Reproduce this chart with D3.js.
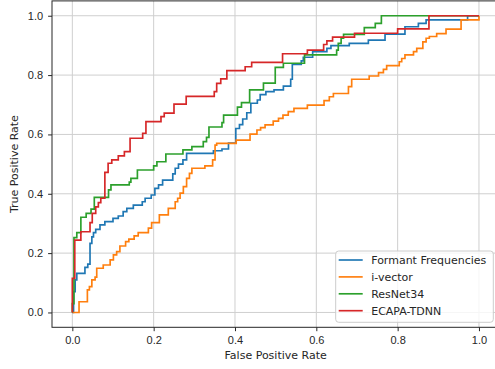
<!DOCTYPE html>
<html>
<head>
<meta charset="utf-8">
<script src="https://cdn.jsdelivr.net/npm/d3@7"></script>
<style>
  body { margin: 0; background: #fff; }
  svg { display: block; font-family: "DejaVu Sans", sans-serif; }
  .tick text { font-size: 11px; fill: #262626; }
  .tick line { stroke: #262626; }
  .domain { display: none; }
</style>
</head>
<body>
<svg id="chart" width="495" height="369"></svg>
<script>
// ROC curves (corner points, step after)
const seriesNames = ['Formant Frequencies', 'i-vector', 'ResNet34', 'ECAPA-TDNN'];
const seriesColors = ['#1f77b4', '#ff7f0e', '#2ca02c', '#d62728'];

const formantFpr = [0, 0.003, 0.007, 0.011, 0.031, 0.038, 0.0435, 0.048, 0.052, 0.0575,
    0.068, 0.08, 0.1, 0.113, 0.125, 0.134, 0.15, 0.172, 0.179, 0.194,
    0.203, 0.212, 0.222, 0.247, 0.253, 0.261, 0.272, 0.281, 0.347, 0.368,
    0.384, 0.402, 0.411, 0.419, 0.429, 0.439, 0.455, 0.462, 0.476, 0.496,
    0.519, 0.537, 0.541, 0.563, 0.568, 0.591, 0.626, 0.636, 0.681, 0.728,
    0.769, 0.818, 0.851, 0.87, 0.972, 1.0];
const formantTpr = [0, 0.07, 0.11, 0.132, 0.152, 0.163, 0.233, 0.255, 0.269, 0.28,
    0.295, 0.306, 0.317, 0.325, 0.34, 0.351, 0.362, 0.373, 0.385, 0.396,
    0.418, 0.43, 0.446, 0.467, 0.486, 0.5, 0.514, 0.536, 0.545, 0.551,
    0.571, 0.62, 0.633, 0.652, 0.673, 0.705, 0.716, 0.734, 0.744, 0.75,
    0.763, 0.786, 0.836, 0.848, 0.86, 0.879, 0.89, 0.899, 0.907, 0.918,
    0.938, 0.963, 0.974, 0.986, 1.0, 1.0];

const ivecFpr = [0, 0.0165, 0.037, 0.042, 0.048, 0.056, 0.06, 0.076, 0.093, 0.101,
    0.109, 0.117, 0.131, 0.139, 0.152, 0.162, 0.187, 0.195, 0.214, 0.236,
    0.253, 0.259, 0.265, 0.273, 0.281, 0.288, 0.294, 0.326, 0.345, 0.351,
    0.355, 0.403, 0.437, 0.454, 0.463, 0.474, 0.494, 0.507, 0.518, 0.531,
    0.545, 0.578, 0.619, 0.632, 0.642, 0.679, 0.687, 0.73, 0.753, 0.765,
    0.773, 0.804, 0.81, 0.818, 0.839, 0.847, 0.862, 0.87, 0.878, 0.896,
    0.919, 0.956, 1.0];
const ivecTpr = [0, 0.036, 0.076, 0.087, 0.11, 0.119, 0.149, 0.16, 0.177, 0.194,
    0.205, 0.224, 0.239, 0.247, 0.258, 0.269, 0.284, 0.303, 0.329, 0.351,
    0.373, 0.385, 0.402, 0.424, 0.452, 0.469, 0.486, 0.494, 0.514, 0.564,
    0.57, 0.581, 0.601, 0.615, 0.623, 0.632, 0.645, 0.654, 0.665, 0.677,
    0.688, 0.699, 0.714, 0.727, 0.738, 0.761, 0.786, 0.797, 0.808, 0.819,
    0.832, 0.845, 0.856, 0.868, 0.879, 0.89, 0.912, 0.924, 0.93, 0.94,
    0.955, 0.986, 1.0];

const resnetFpr = [0, 0, 0.004, 0.011, 0.021, 0.034, 0.046, 0.054, 0.089, 0.095,
    0.14, 0.144, 0.16, 0.2, 0.208, 0.23, 0.272, 0.294, 0.322, 0.33,
    0.336, 0.368, 0.372, 0.406, 0.416, 0.436, 0.47, 0.499, 0.519, 0.571,
    0.65, 0.654, 0.661, 0.667, 0.718, 0.745, 0.76, 1.0];
const resnetTpr = [0, 0.03, 0.252, 0.269, 0.321, 0.334, 0.348, 0.388, 0.413, 0.43,
    0.439, 0.452, 0.48, 0.494, 0.508, 0.534, 0.548, 0.559, 0.576, 0.59,
    0.625, 0.64, 0.665, 0.692, 0.707, 0.75, 0.773, 0.826, 0.84, 0.868,
    0.884, 0.907, 0.924, 0.937, 0.96, 0.974, 1.0, 1.0];

const ecapaFpr = [0, 0, 0.006, 0.021, 0.0435, 0.049, 0.0575, 0.064, 0.07, 0.08,
    0.088, 0.097, 0.113, 0.128, 0.142, 0.173, 0.181, 0.218, 0.226, 0.25,
    0.28, 0.349, 0.355, 0.365, 0.38, 0.425, 0.441, 0.517, 0.578, 0.618,
    0.626, 0.64, 0.694, 0.8, 0.877, 1.0];
const ecapaTpr = [0, 0.115, 0.244, 0.272, 0.303, 0.334, 0.356, 0.37, 0.385, 0.472,
    0.503, 0.514, 0.528, 0.542, 0.587, 0.604, 0.643, 0.66, 0.672, 0.702,
    0.728, 0.744, 0.772, 0.787, 0.815, 0.828, 0.843, 0.872, 0.884, 0.903,
    0.915, 0.928, 0.941, 0.956, 1.0, 1.0];

const tickValues = [0, 0.2, 0.4, 0.6, 0.8, 1.0];

const curves = [
    [formantFpr, formantTpr],
    [ivecFpr, ivecTpr],
    [resnetFpr, resnetTpr],
    [ecapaFpr, ecapaTpr],
].map(([f, t], i) => ({
    name: seriesNames[i],
    color: seriesColors[i],
    pts: f.map((v, j) => [v, t[j]]),
}));

const L = 52, R = 499.3, T = 0.9, B = 327.3;
const svg = d3.select('#chart');
const x = d3.scaleLinear().domain([-0.05, 1.05]).range([L, R]);
const y = d3.scaleLinear().domain([-0.05, 1.05]).range([B, T]);

// grid
const grid = svg.append('g').attr('stroke', '#cfcfcf').attr('stroke-width', 1);
grid.selectAll('.gx').data(tickValues).enter().append('line')
    .attr('x1', d => x(d)).attr('x2', d => x(d)).attr('y1', T).attr('y2', B);
grid.selectAll('.gy').data(tickValues).enter().append('line')
    .attr('y1', d => y(d)).attr('y2', d => y(d)).attr('x1', L).attr('x2', R);

// curves
const line = d3.line().x(d => x(d[0])).y(d => y(d[1])).curve(d3.curveStepAfter);
svg.append('g').selectAll('path').data(curves).enter().append('path')
    .attr('d', d => line(d.pts))
    .attr('fill', 'none')
    .attr('stroke', d => d.color)
    .attr('stroke-width', 1.67)
    .attr('stroke-linejoin', 'miter');

// spines
svg.append('rect').attr('x', L).attr('y', T).attr('width', R - L).attr('height', B - T)
    .attr('fill', 'none').attr('stroke', '#262626').attr('stroke-width', 1);

// axes
svg.append('g').attr('transform', `translate(0,${B})`)
    .call(d3.axisBottom(x).tickValues(tickValues).tickFormat(d3.format('.1f')).tickSize(3.9).tickPadding(4.5));
svg.append('g').attr('transform', `translate(${L},0)`)
    .call(d3.axisLeft(y).tickValues(tickValues).tickFormat(d3.format('.1f')).tickSize(3.9).tickPadding(5));

svg.append('text').attr('x', x(0.5)).attr('y', 359).attr('text-anchor', 'middle')
    .attr('font-size', 11).attr('fill', '#262626').text('False Positive Rate');
svg.append('text').attr('transform', `translate(18,${(T + B) / 2}) rotate(-90)`)
    .attr('text-anchor', 'middle').attr('font-size', 11).attr('fill', '#262626').text('True Positive Rate');

// legend
const lg = svg.append('g').attr('transform', 'translate(335.7,251)');
lg.append('rect').attr('width', 157.6).attr('height', 71.3).attr('rx', 3)
    .attr('fill', 'white').attr('fill-opacity', 0.8).attr('stroke', '#cccccc').attr('stroke-width', 1);
const row = lg.selectAll('.row').data(curves).enter().append('g')
    .attr('transform', (d, i) => `translate(0,${9 + i * 16.9})`);
row.append('line').attr('x1', 3).attr('x2', 27).attr('stroke', d => d.color).attr('stroke-width', 1.67);
row.append('text').attr('x', 35.5).attr('dy', '0.36em').attr('font-size', 11).attr('fill', '#262626')
    .text(d => d.name);
</script>
</body>
</html>
